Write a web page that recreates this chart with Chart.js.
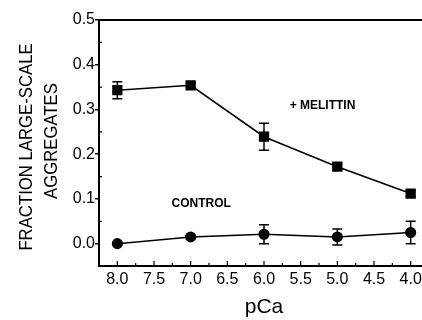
<!DOCTYPE html>
<html>
<head>
<meta charset="utf-8">
<script src="https://cdn.jsdelivr.net/npm/chart.js@4/dist/chart.umd.min.js"></script>
<style>
  html, body { margin: 0; padding: 0; background: #fff; overflow: hidden; }
  #wrap { width: 440px; height: 320px; }
</style>
</head>
<body>
<div id="wrap"><canvas id="grafico" width="440" height="320"></canvas></div>
<script>
// valores
var pCa = [8.0, 7.0, 6.0, 5.0, 4.0];
var melittin = [0.343, 0.354, 0.239, 0.172, 0.112];
var melittinErr = [0.019, 0.005, 0.03, 0.007, 0.007];
var control = [0.0, 0.015, 0.021, 0.015, 0.025];
var controlErr = [0.0, 0.004, 0.021, 0.018, 0.025];
var xTicks = [8.0, 7.5, 7.0, 6.5, 6.0, 5.5, 5.0, 4.5, 4.0];
var yTicks = [0.0, 0.1, 0.2, 0.3, 0.4, 0.5];
var yTitle = ['FRACTION LARGE-SCALE', 'AGGREGATES'];
var notes = [
  { text: '+ MELITTIN', x: 5.65, y: 0.309 },
  { text: 'CONTROL', x: 7.26, y: 0.09 }
];

var fonte = 'Liberation Sans, Arial, sans-serif';

function pontos(ys) {
  return pCa.map(function(x, i) { return { x: x, y: ys[i] }; });
}

// barras de erro, moldura, marcas menores e textos
var extras = {
  id: 'extras',
  afterDatasetsDraw: function(chart) {
    var ctx = chart.ctx, xs = chart.scales.x, ys = chart.scales.y;
    var a = chart.chartArea;
    ctx.save();
    ctx.strokeStyle = '#000';
    ctx.fillStyle = '#000';

    // erros
    ctx.lineWidth = 1.5;
    [[melittin, melittinErr], [control, controlErr]].forEach(function(s) {
      pCa.forEach(function(x, i) {
        if (!s[1][i]) return;
        var px = xs.getPixelForValue(x);
        var top = ys.getPixelForValue(s[0][i] + s[1][i]);
        var bot = ys.getPixelForValue(s[0][i] - s[1][i]);
        ctx.beginPath();
        ctx.moveTo(px, top); ctx.lineTo(px, bot);
        ctx.moveTo(px - 5, top); ctx.lineTo(px + 5, top);
        ctx.moveTo(px - 5, bot); ctx.lineTo(px + 5, bot);
        ctx.stroke();
      });
    });

    // moldura
    ctx.lineWidth = 2;
    ctx.strokeRect(a.left, a.top, a.right - a.left, a.bottom - a.top);

    // marcas do eixo x (para dentro)
    ctx.lineWidth = 1.2;
    ctx.beginPath();
    for (var v = 8.0; v >= 3.99; v -= 0.25) {
      var px = xs.getPixelForValue(v);
      var len = (Math.round(v * 2) === v * 2) ? 5 : 3;
      ctx.moveTo(px, a.bottom); ctx.lineTo(px, a.bottom - len);
    }
    // marcas menores do eixo y (para dentro)
    for (var w = -0.05; w < 0.5; w += 0.1) {
      var py = ys.getPixelForValue(w);
      ctx.moveTo(a.left, py); ctx.lineTo(a.left + 3, py);
    }
    ctx.stroke();

    // textos dentro do grafico
    ctx.font = 'bold 12px ' + fonte;
    ctx.textBaseline = 'middle';
    ctx.textAlign = 'left';
    notes.forEach(function(n) {
      ctx.fillText(n.text, xs.getPixelForValue(n.x), ys.getPixelForValue(n.y));
    });

    // titulo do eixo y, letra estreita
    var meio = (a.top + a.bottom) / 2;
    ctx.font = '19px ' + fonte;
    ctx.textAlign = 'center';
    ctx.textBaseline = 'alphabetic';
    [32, 57].forEach(function(bx, i) {
      ctx.save();
      ctx.translate(bx, meio + (i === 0 ? 4 : -2));
      ctx.rotate(-Math.PI / 2);
      ctx.scale(0.88, 1);
      ctx.fillText(yTitle[i], 0, 0);
      ctx.restore();
    });
    ctx.restore();
  }
};

Chart.defaults.font.family = fonte;
Chart.defaults.color = '#000';

var chart = new Chart(document.getElementById('grafico').getContext('2d'), {
  type: 'scatter',
  data: {
    datasets: [{
      label: '+ MELITTIN',
      data: pontos(melittin),
      showLine: true,
      borderColor: '#000',
      backgroundColor: '#000',
      borderWidth: 1.5,
      pointStyle: 'rect',
      pointRadius: 6.2
    }, {
      label: 'CONTROL',
      data: pontos(control),
      showLine: true,
      borderColor: '#000',
      backgroundColor: '#000',
      borderWidth: 1.5,
      pointStyle: 'circle',
      pointRadius: 4.8
    }]
  },
  options: {
    responsive: false,
    animation: false,
    events: [],
    layout: { padding: { top: 20, right: 11, left: 0, bottom: 0 } },
    plugins: { legend: { display: false }, tooltip: { enabled: false } },
    scales: {
      x: {
        type: 'linear',
        reverse: true,
        min: 3.75,
        max: 8.25,
        afterBuildTicks: function(s) { s.ticks = xTicks.map(function(v) { return { value: v }; }); },
        afterFit: function(s) { s.height = 54; },
        grid: { display: false, drawTicks: false },
        border: { display: false },
        ticks: {
          padding: 4,
          font: { size: 16 },
          callback: function(v) { return Number(v).toFixed(1); }
        },
        title: { display: true, text: 'pCa', font: { size: 21 }, padding: { top: 3, bottom: 0 } }
      },
      y: {
        min: -0.05,
        max: 0.5,
        afterBuildTicks: function(s) { s.ticks = yTicks.map(function(v) { return { value: v }; }); },
        afterFit: function(s) { s.width = 99; },
        grid: { drawOnChartArea: false, drawTicks: true, tickLength: 4, color: '#000', lineWidth: 1.5 },
        border: { display: false },
        ticks: {
          padding: 0,
          font: { size: 16 },
          callback: function(v) { return Number(v).toFixed(1); }
        },
        title: { display: false }
      }
    }
  },
  plugins: [extras]
});
</script>
</body>
</html>
